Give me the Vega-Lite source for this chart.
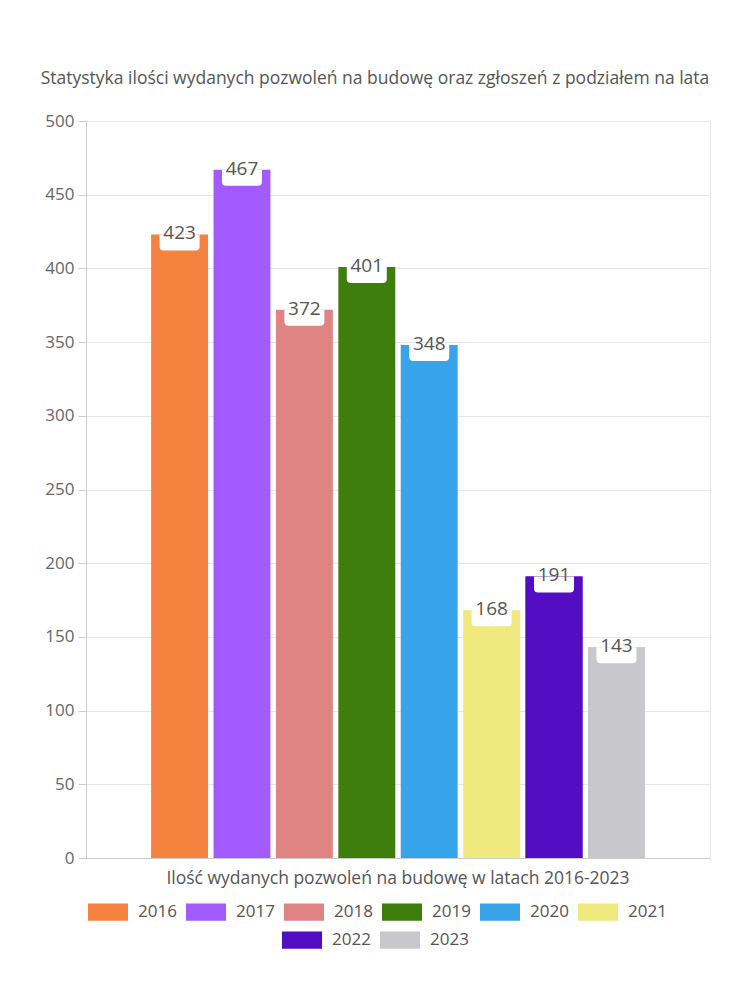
{
  "$schema": "https://vega.github.io/schema/vega-lite/v6.json",
  "width": 624,
  "height": 737,
  "autosize": {"type": "none"},
  "padding": {"left": 86, "top": 121, "right": 40, "bottom": 142},
  "background": "white",
  "config": {
    "font": "Open Sans",
    "view": {"stroke": "#e6e6e6"}
  },
  "title": {
    "text": "Statystyka ilości wydanych pozwoleń na budowę oraz zgłoszeń z podziałem na lata",
    "fontSize": 17.5,
    "fontWeight": "normal",
    "color": "#555555",
    "anchor": "middle",
    "dx": -23,
    "offset": 25
  },
  "data": {
    "values": [
      {"kategoria": "Ilość wydanych pozwoleń na budowę w latach 2016-2023", "rok": "2016", "wartosc": 423},
      {"kategoria": "Ilość wydanych pozwoleń na budowę w latach 2016-2023", "rok": "2017", "wartosc": 467},
      {"kategoria": "Ilość wydanych pozwoleń na budowę w latach 2016-2023", "rok": "2018", "wartosc": 372},
      {"kategoria": "Ilość wydanych pozwoleń na budowę w latach 2016-2023", "rok": "2019", "wartosc": 401},
      {"kategoria": "Ilość wydanych pozwoleń na budowę w latach 2016-2023", "rok": "2020", "wartosc": 348},
      {"kategoria": "Ilość wydanych pozwoleń na budowę w latach 2016-2023", "rok": "2021", "wartosc": 168},
      {"kategoria": "Ilość wydanych pozwoleń na budowę w latach 2016-2023", "rok": "2022", "wartosc": 191},
      {"kategoria": "Ilość wydanych pozwoleń na budowę w latach 2016-2023", "rok": "2023", "wartosc": 143}
    ]
  },
  "encoding": {
    "x": {
      "field": "kategoria",
      "type": "nominal",
      "scale": {"paddingInner": 0, "paddingOuter": 0.1},
      "axis": {
        "title": null,
        "labelAngle": 0,
        "labelFontSize": 17.5,
        "labelColor": "#555555",
        "labelPadding": 11,
        "labelLimit": 650,
        "ticks": false,
        "grid": false,
        "domainColor": "#cccccc"
      }
    },
    "xOffset": {
      "field": "rok",
      "type": "nominal",
      "scale": {"paddingInner": 0.088, "paddingOuter": 0.21}
    },
    "y": {
      "field": "wartosc",
      "type": "quantitative",
      "scale": {"domain": [0, 500], "nice": false},
      "axis": {
        "title": null,
        "values": [0, 50, 100, 150, 200, 250, 300, 350, 400, 450, 500],
        "labelFontSize": 17,
        "labelColor": "#666666",
        "tickSize": 8,
        "tickColor": "#cccccc",
        "domainColor": "#cccccc",
        "gridColor": "#e6e6e6",
        "labelPadding": 4
      }
    }
  },
  "layer": [
    {
      "mark": {"type": "bar"},
      "encoding": {
        "color": {
          "field": "rok",
          "type": "nominal",
          "scale": {
            "domain": ["2016", "2017", "2018", "2019", "2020", "2021", "2022", "2023"],
            "range": ["#f5833f", "#a25bff", "#e08383", "#3e7e0d", "#37a3e8", "#f0ea7e", "#520cc2", "#c8c8cc"]
          },
          "legend": {
            "values": ["2016", "2017", "2018", "2019", "2020", "2021"],
            "orient": "none",
            "legendX": 2,
            "legendY": 771,
            "padding": 0,
            "direction": "horizontal",
            "title": null,
            "symbolType": "M -1 -0.43 L 1 -0.43 L 1 0.43 L -1 0.43 Z",
            "symbolSize": 1600,
            "symbolStrokeWidth": 0,
            "labelFontSize": 17,
            "labelColor": "#555555",
            "labelOffset": 10,
            "columnPadding": 9
          }
        }
      }
    },
    {
      "transform": [{"filter": {"field": "rok", "oneOf": ["2022", "2023"]}}],
      "mark": {"type": "bar"},
      "encoding": {
        "color": {
          "field": "rok",
          "type": "nominal",
          "scale": {"domain": ["2022", "2023"], "range": ["#520cc2", "#c8c8cc"]},
          "legend": {
            "orient": "none",
            "legendX": 196,
            "legendY": 799,
            "padding": 0,
            "direction": "horizontal",
            "title": null,
            "symbolType": "M -1 -0.43 L 1 -0.43 L 1 0.43 L -1 0.43 Z",
            "symbolSize": 1600,
            "symbolStrokeWidth": 0,
            "labelFontSize": 17,
            "labelColor": "#555555",
            "labelOffset": 10,
            "columnPadding": 9
          }
        }
      }
    },
    {
      "mark": {
        "type": "point",
        "shape": "M -1 0 L 1 0 L 1 0.6 Q 1 0.8 0.8 0.8 L -0.8 0.8 Q -1 0.8 -1 0.6 Z",
        "size": 1600,
        "filled": true,
        "color": "white",
        "opacity": 1,
        "strokeWidth": 0
      }
    },
    {
      "mark": {"type": "text", "fontSize": 19, "color": "#555555", "baseline": "middle", "dy": -1},
      "encoding": {"text": {"field": "wartosc", "type": "quantitative"}}
    }
  ],
  "resolve": {"scale": {"color": "independent"}, "legend": {"color": "independent"}}
}
